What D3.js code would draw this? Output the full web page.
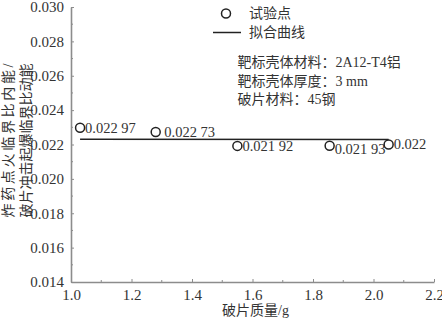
<!DOCTYPE html>
<html>
<head>
<meta charset="utf-8">
<script src="https://cdn.jsdelivr.net/npm/d3@7"></script>
<style>
  body { margin: 0; background: #fff; }
  svg { display: block; }
  text { fill: #333; }
</style>
</head>
<body>
<svg id="chart" width="442" height="318"></svg>
<script>
// data
const mass = [1.03, 1.28, 1.55, 1.855, 2.05];
const ratio = [0.02297, 0.02273, 0.02192, 0.02193, 0.02200];
const pointLabels = ["0.022 97", " 0.022 73", "0.021 92", "0.021 93", "0.022"];
const fitMass = [1.03, 2.05];
const fitRatio = [0.02231, 0.02229];
const xTicks = [1.0, 1.2, 1.4, 1.6, 1.8, 2.0, 2.2];
const yTicks = [0.014, 0.016, 0.018, 0.020, 0.022, 0.024, 0.026, 0.028, 0.030];
const notes = ["靶标壳体材料：2A12-T4铝", "靶标壳体厚度：3 mm", "破片材料：45钢"];
const legendNames = ["试验点", "拟合曲线"];

const FONT = "'Liberation Serif', 'Noto Sans CJK SC', serif";
const axisColor = "#8c8c8c";

const svg = d3.select("#chart");
const plotLeft = 71, plotRight = 434, plotTop = 7, plotBottom = 282;

const x = d3.scaleLinear().domain([1.0, 2.2]).range([plotLeft, plotRight]);
const y = d3.scaleLinear().domain([0.014, 0.030]).range([plotBottom, plotTop]);

// minor ticks
const xMinor = d3.range(1.1, 2.2, 0.2);
const yMinor = d3.range(0.015, 0.030, 0.002);
svg.append("g").selectAll("line").data(xMinor).enter().append("line")
    .attr("x1", d => x(d)).attr("x2", d => x(d))
    .attr("y1", plotBottom).attr("y2", plotBottom - 2)
    .attr("stroke", axisColor).attr("stroke-width", 1);
svg.append("g").selectAll("line").data(yMinor).enter().append("line")
    .attr("x1", plotLeft).attr("x2", plotLeft + 2)
    .attr("y1", d => y(d)).attr("y2", d => y(d))
    .attr("stroke", axisColor).attr("stroke-width", 1);

// x axis
const gx = svg.append("g")
    .attr("transform", `translate(0, ${plotBottom})`)
    .call(d3.axisBottom(x).tickValues(xTicks).tickFormat(d3.format(".1f"))
        .tickSize(-3).tickPadding(7).tickSizeOuter(0));
// y axis
const gy = svg.append("g")
    .attr("transform", `translate(${plotLeft}, 0)`)
    .call(d3.axisLeft(y).tickValues(yTicks).tickFormat(d3.format(".3f"))
        .tickSize(-3).tickPadding(7).tickSizeOuter(0));

[gx, gy].forEach(g => {
    g.select(".domain").attr("stroke", axisColor).attr("stroke-width", 1.6);
    g.selectAll(".tick line").attr("stroke", axisColor).attr("stroke-width", 1);
    g.selectAll(".tick text")
        .attr("font-family", FONT).attr("font-size", 15).attr("fill", "#333");
});

// axis titles
svg.append("text")
    .attr("x", (plotLeft + plotRight) / 2 + 3).attr("y", 310.5)
    .attr("text-anchor", "middle").attr("dominant-baseline", "central")
    .attr("font-family", FONT).attr("font-size", 14)
    .text("破片质量/g");

const yTitle = ["炸药点火临界比内能/", "破片冲击起爆临界比动能"];
svg.append("g").selectAll("text").data(yTitle).enter().append("text")
    .attr("transform", (d, i) => `translate(${8.5 + i * 18}, 140.5) rotate(-90)`)
    .attr("text-anchor", "middle").attr("dominant-baseline", "central")
    .attr("font-family", FONT).attr("font-size", 14)
    .attr("textLength", 154).attr("lengthAdjust", "spacing")
    .text(d => d);

// fit line
const fit = fitMass.map((m, i) => [m, fitRatio[i]]);
svg.append("path")
    .datum(fit)
    .attr("d", d3.line().x(d => x(d[0])).y(d => y(d[1])))
    .attr("fill", "none").attr("stroke", "#222").attr("stroke-width", 1.5);

// points
const pts = mass.map((m, i) => ({ m: m, r: ratio[i], label: pointLabels[i] }));
svg.append("g").selectAll("circle").data(pts).enter().append("circle")
    .attr("cx", d => x(d.m)).attr("cy", d => y(d.r)).attr("r", 4.5)
    .attr("fill", "none").attr("stroke", "#222").attr("stroke-width", 1.5);

const labelDy = [0, 0, 0, 3.5, -1];
svg.append("g").selectAll("text").data(pts).enter().append("text")
    .attr("x", d => x(d.m) + 5)
    .attr("y", (d, i) => y(d.r) + labelDy[i])
    .attr("dominant-baseline", "central")
    .attr("font-family", FONT).attr("font-size", 14.5)
    .attr("xml:space", "preserve")
    .style("white-space", "pre")
    .text(d => d.label);

// legend
const lg = svg.append("g");
lg.append("circle").attr("cx", 226).attr("cy", 13.5).attr("r", 4.5)
    .attr("fill", "none").attr("stroke", "#222").attr("stroke-width", 1.5);
lg.append("line").attr("x1", 213).attr("x2", 241).attr("y1", 32.5).attr("y2", 32.5)
    .attr("stroke", "#222").attr("stroke-width", 1.5);
lg.selectAll("text").data(legendNames).enter().append("text")
    .attr("x", 249).attr("y", (d, i) => 13 + i * 19.5)
    .attr("dominant-baseline", "central")
    .attr("font-family", FONT).attr("font-size", 14)
    .text(d => d);

// notes
svg.append("g").selectAll("text").data(notes).enter().append("text")
    .attr("x", 237.5).attr("y", (d, i) => 62.5 + i * 18.5)
    .attr("dominant-baseline", "central")
    .attr("font-family", FONT).attr("font-size", 14)
    .text(d => d);
</script>
</body>
</html>
